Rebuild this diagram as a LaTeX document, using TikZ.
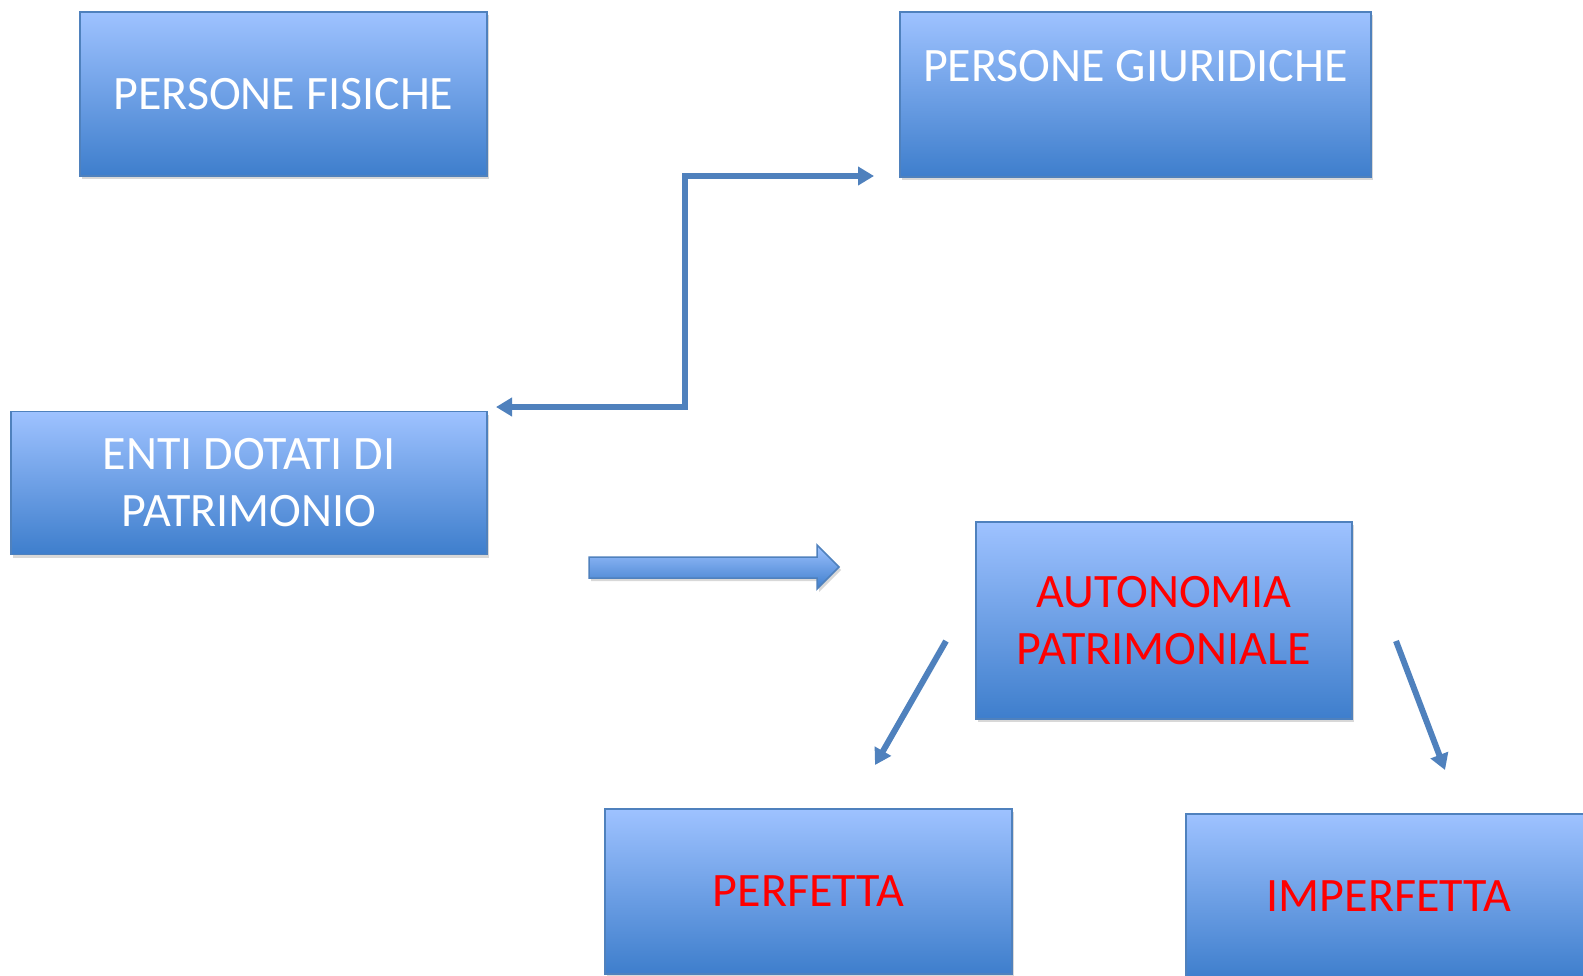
\documentclass[tikz,border=0pt]{standalone}
\usepackage{fontspec}
\setmainfont{Carlito}
\usetikzlibrary{arrows.meta,shadows}
\definecolor{boxtop}{RGB}{158,194,255}
\definecolor{boxbot}{RGB}{62,126,204}
\definecolor{edge}{RGB}{79,129,189}
\definecolor{txtred}{RGB}{255,0,0}
\tikzset{
  box/.style={draw=edge, line width=0.75pt, top color=boxtop, bottom color=boxbot,
    drop shadow={opacity=0.3, shadow xshift=1pt, shadow yshift=-1.5pt},
    inner sep=0pt, align=center, font=\fontsize{24}{28.5}\selectfont},
  wt/.style={text=white},
  rt/.style={text=txtred},
  conn/.style={draw=edge, line width=3pt, -{Triangle[length=8pt,width=9pt]}},
}
\begin{document}
\begin{tikzpicture}[x=0.5pt,y=-0.5pt]
\useasboundingbox (0,0) rectangle (1583,975);
\clip (0,0) rectangle (1583,975);
\fill[white] (0,0) rectangle (1583,975);

\node[box,wt,minimum width=203.5pt,minimum height=82pt] (pf) at (283.5,94) {PERSONE FISICHE};
\node[box,minimum width=235.5pt,minimum height=82.5pt] (pg) at (1135.5,94.5) {};
\node[wt,font=\fontsize{24}{28.5}\selectfont,inner sep=0pt] (pgt) at (1135.5,66) {PERSONE GIURIDICHE};
\node[box,wt,minimum width=238pt,minimum height=71.5pt] (en) at (249,483) {ENTI DOTATI DI\\PATRIMONIO};
\node[box,rt,minimum width=188pt,minimum height=98.5pt] (au) at (1164,620.5) {AUTONOMIA\\PATRIMONIALE};
\node[box,rt,minimum width=203.5pt,minimum height=82.5pt] (pe) at (808.5,891.5) {PERFETTA};
\node[box,rt,minimum width=203pt,minimum height=82.5pt] (im) at (1389,896.5) {IMPERFETTA};

% block arrow
\draw[draw=edge, line width=0.75pt, top color=boxtop, bottom color=boxbot,
  drop shadow={opacity=0.3, shadow xshift=1pt, shadow yshift=-1.5pt}]
  (589,557) -- (817,557) -- (817,545) -- (839,567) -- (817,589) -- (817,578) -- (589,578) -- cycle;

% elbow double arrow
\coordinate (e1) at (874,176);
\coordinate (ec) at (685,176);
\coordinate (e2) at (496,407);
\draw[conn,{Triangle[length=8pt,width=9pt]}-{Triangle[length=8pt,width=9pt]}] (e2) -| (ec) -- (e1);

% diagonal arrows
\coordinate (d1s) at (946,641);
\coordinate (d1e) at (875,765);
\coordinate (d2s) at (1396,641);
\coordinate (d2e) at (1445,770);
\draw[conn] (d1s) -- (d1e);
\draw[conn] (d2s) -- (d2e);
\end{tikzpicture}
\end{document}
